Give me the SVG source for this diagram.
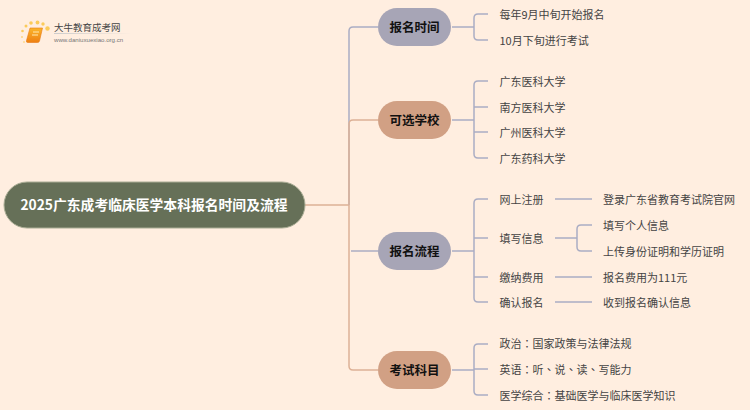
<svg xmlns="http://www.w3.org/2000/svg" width="750" height="410" viewBox="0 0 750 410">
<defs><style>
text{font-family:"Noto Sans CJK SC","Liberation Sans",sans-serif;dominant-baseline:central}
.l{font-size:11px;fill:#444}
.b{font-size:12.500px;font-weight:700;fill:#111;text-anchor:middle}
.g{fill:none;stroke:#ABADC3;stroke-width:1.5}
.o{fill:none;stroke:#DDB196;stroke-width:1.5}
.p{font-family:"Noto Sans CJK TC",sans-serif}
</style>
<linearGradient id="bk" x1="0" y1="0" x2="0" y2="1"><stop offset="0" stop-color="#FBB52B"/><stop offset="1" stop-color="#EE7F12"/></linearGradient>
<linearGradient id="rule" x1="0" y1="0" x2="1" y2="0"><stop offset="0" stop-color="#ccc"/><stop offset="1" stop-color="#ccc" stop-opacity="0"/></linearGradient>
</defs>
<rect width="750" height="410" fill="#FFEEE0"/>
<g id="logo">
<g fill="#FBCB5A"><circle cx="47.500" cy="28.500" r="2.200"/><circle cx="37.500" cy="22.500" r="1.900"/><circle cx="43" cy="24" r="1.700"/><circle cx="31" cy="23" r="1.800"/><circle cx="26" cy="26" r="1.500"/><circle cx="22.500" cy="31" r="1.300"/><circle cx="22" cy="37" r="1" opacity=".7"/><circle cx="24" cy="42" r="1" opacity=".6"/></g>
<path d="M30 28h12.500l-3 13q-.5 1.500-2 1.500H27.500q-1.500 0-1-2z" fill="url(#bk)" stroke="#E87A12" stroke-width=".6"/>
<path d="M33 32h6M32 35h6" stroke="#FFE9B0" stroke-width="1"/>
<text x="54" y="26.500" style="font-size:9.500px;fill:#444">大牛教育成考网</text>
<rect x="54" y="33" width="78" height="1" fill="url(#rule)"/>
<text x="54" y="39" style="font-size:6.100px;fill:#777;font-family:'Liberation Sans',sans-serif">www.daniuxuexiao.org.cn</text>
</g>
<g id="connectors">
<path class="o" d="M305 205H349"/>
<path class="g" d="M349 205V31q0-4 4-4H378"/>
<path class="o" d="M349 205V124q0-4 4-4H378"/>
<path class="o" d="M349 205V366q0 4 4 4H378"/>
<path class="g" d="M351 251H378"/>
<path class="g" d="M452 27H474M488 14H478q-4 0-4 4V36q0 4 4 4H488"/>
<path class="g" d="M452 120H474M488 81H478q-4 0-4 4V154q0 4 4 4H488M474 107H488M474 132H488"/>
<path class="g" d="M452 251H474M488 199H478q-4 0-4 4V298q0 4 4 4H488M474 238H488M474 277H488"/>
<path class="g" d="M452 370H474M488 344H478q-4 0-4 4V391q0 4 4 4H488M474 369H488"/>
<path class="g" d="M555 199H592M555 238H577M592 225H581q-4 0-4 4V247q0 4 4 4H592M555 277H592M555 302H592"/>
</g>
<g id="root"><rect x="4" y="182" width="301" height="46" rx="23" fill="#667058" stroke="#A9AC94" stroke-width="1"/><text x="154" y="204" style="font-size:13.800px;font-weight:700;fill:#fff;text-anchor:middle">2025广东成考临床医学本科报名时间及流程</text></g>
<g id="n1"><rect x="378" y="8" width="73" height="38" rx="19" fill="#A7A5B6"/><text class="b" x="414.500" y="26.500">报名时间</text></g>
<g id="n2"><rect x="378" y="101" width="73" height="38" rx="19" fill="#D1A084"/><text class="b" x="414.500" y="119.500">可选学校</text></g>
<g id="n3"><rect x="378" y="232" width="73" height="38" rx="19" fill="#A7A5B6"/><text class="b" x="414.500" y="250.500">报名流程</text></g>
<g id="n4"><rect x="378" y="351" width="73" height="38" rx="19" fill="#D1A084"/><text class="b" x="414.500" y="369.500">考试科目</text></g>
<g id="leaves">
<text class="l" x="499.500" y="13.500">每年9月中旬开始报名</text>
<text class="l" x="499.500" y="39.500">10月下旬进行考试</text>
<text class="l" x="499.500" y="80.500">广东医科大学</text>
<text class="l" x="499.500" y="106.500">南方医科大学</text>
<text class="l" x="499.500" y="132">广州医科大学</text>
<text class="l" x="499.500" y="158">广东药科大学</text>
<text class="l" x="499.500" y="198.500">网上注册</text>
<text class="l" x="499.500" y="237.500">填写信息</text>
<text class="l" x="499.500" y="276.500">缴纳费用</text>
<text class="l" x="499.500" y="302">确认报名</text>
<text class="l" x="603" y="198.500">登录广东省教育考试院官网</text>
<text class="l" x="603" y="224.500">填写个人信息</text>
<text class="l" x="603" y="250.500">上传身份证明和学历证明</text>
<text class="l" x="603" y="276.500">报名费用为111元</text>
<text class="l" x="603" y="302">收到报名确认信息</text>
<text class="l" x="499.500" y="343">政治<tspan class="p">：</tspan>国家政策与法律法规</text>
<text class="l" x="499.500" y="369">英语<tspan class="p">：</tspan>听<tspan class="p">、</tspan>说<tspan class="p">、</tspan>读<tspan class="p">、</tspan>写能力</text>
<text class="l" x="499.500" y="395">医学综合<tspan class="p">：</tspan>基础医学与临床医学知识</text>
</g>
</svg>
